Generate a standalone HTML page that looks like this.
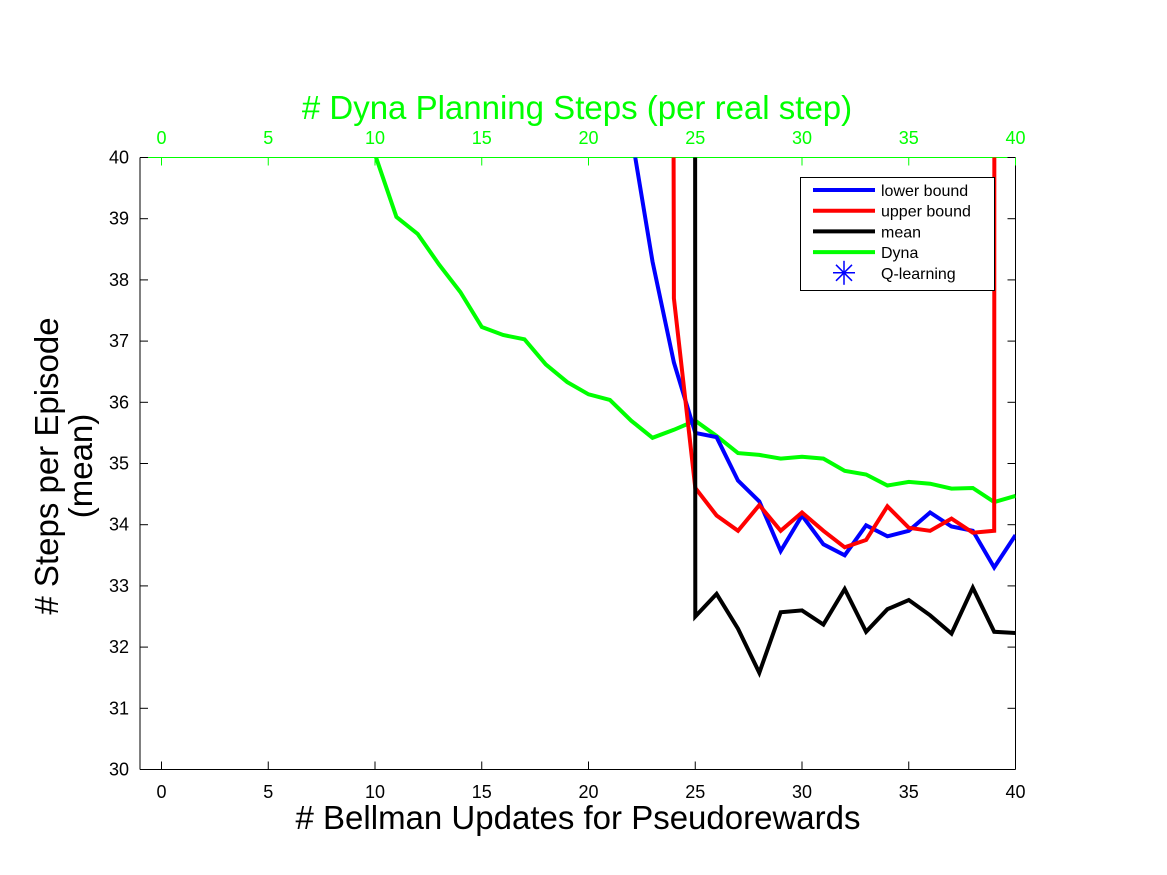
<!DOCTYPE html>
<html><head><meta charset="utf-8"><style>
body{margin:0;background:#fff;}
svg{display:block;font-family:"Liberation Sans",Arial,sans-serif;}
</style></head><body>
<svg id="chart" width="1167" height="875" viewBox="0 0 1167 875">
<rect width="1167" height="875" fill="#fff"/>
<g id="axes"></g>
<g id="series"></g>
<g id="legend"></g>
</svg>
<script>
const xTicks=[0,5,10,15,20,25,30,35,40];
const yTicks=[30,31,32,33,34,35,36,37,38,39,40];
const dynaX=[10,11,12,13,14,15,16,17,18,19,20,21,22,23,24,25,26,27,28,29,30,31,32,33,34,35,36,37,38,39,40];
const dynaY=[40.05,39.03,38.75,38.25,37.8,37.23,37.1,37.03,36.62,36.33,36.13,36.04,35.7,35.42,35.55,35.7,35.45,35.17,35.14,35.08,35.11,35.08,34.88,34.82,34.64,34.7,34.67,34.59,34.6,34.37,34.47];
const lowerX=[21,22,23,24,25,26,27,28,29,30,31,32,33,34,35,36,37,38,39,40];
const lowerY=[50,40.4,38.3,36.65,35.5,35.43,34.72,34.38,33.57,34.15,33.68,33.5,33.99,33.81,33.9,34.2,33.97,33.9,33.3,33.83];
const upperX=[23,24,25,26,27,28,29,30,31,32,33,34,35,36,37,38,39,40];
const upperY=[200,37.7,34.6,34.15,33.9,34.32,33.9,34.2,33.9,33.63,33.75,34.3,33.95,33.9,34.1,33.87,33.9,1000];
const meanX=[24,25,26,27,28,29,30,31,32,33,34,35,36,37,38,39,40];
const meanY=[1000,32.5,32.87,32.3,31.58,32.57,32.6,32.37,32.95,32.25,32.62,32.77,32.52,32.22,32.97,32.25,32.23];

const L=140,R=1015.5,T=157.5,B=769.5;
const xs=v=>161.5+(v)*21.35;
const ys=v=>B-(v-30)*(B-T)/10;
const NS="http://www.w3.org/2000/svg";
function mk(tag,attrs,parent,text){const e=document.createElementNS(NS,tag);for(const k in attrs)e.setAttribute(k,attrs[k]);if(text!==undefined)e.textContent=text;parent.appendChild(e);return e;}
const axes=document.getElementById('axes');
const defs=mk('defs',{},document.getElementById('chart'));
const cp=mk('clipPath',{id:'clip'},defs);
mk('rect',{x:L,y:T,width:R-L,height:B-T},cp);

let e;
e=mk('line',{x1:L,y1:B,x2:R,y2:B,stroke:'#000','stroke-width':1},axes);


e=mk('line',{x1:L,y1:T,x2:L,y2:B,stroke:'#000','stroke-width':1},axes);


e=mk('line',{x1:R,y1:T,x2:R,y2:B,stroke:'#000','stroke-width':1},axes);


e=mk('line',{x1:L,y1:T,x2:R,y2:T,stroke:'#00ff00','stroke-width':1},axes);



xTicks.forEach(t=>{
  const x=xs(t);
  mk('line',{x1:x,y1:B,x2:x,y2:B-8,stroke:'#000'},axes);
  mk('line',{x1:x,y1:T,x2:x,y2:T+8,stroke:'#00ff00'},axes);
  e=mk('text',{x:x,y:798,'font-size':18,'text-anchor':'middle',fill:'#000'},axes,String(t));
  
  
  e=mk('text',{x:x,y:144,'font-size':18,'text-anchor':'middle',fill:'#00ff00'},axes,String(t));
  
  
});
yTicks.forEach(t=>{
  const y=ys(t);
  mk('line',{x1:L,y1:y,x2:L+8,y2:y,stroke:'#000'},axes);
  mk('line',{x1:R,y1:y,x2:R-8,y2:y,stroke:'#000'},axes);
  e=mk('text',{x:129,y:y+6,'font-size':18,'text-anchor':'end',fill:'#000'},axes,String(t));
  
  
});
e=mk('text',{x:578,y:829,'font-size':33,'text-anchor':'middle',fill:'#000'},axes,'# Bellman Updates for Pseudorewards');


e=mk('text',{x:577,y:119,'font-size':33,'text-anchor':'middle',fill:'#00ff00'},axes,'# Dyna Planning Steps (per real step)');


e=mk('text',{transform:'translate(58,466) rotate(-90)','font-size':33,'text-anchor':'middle',fill:'#000'},axes,'# Steps per Episode');


e=mk('text',{transform:'translate(92,466) rotate(-90)','font-size':33,'text-anchor':'middle',fill:'#000'},axes,'(mean)');



const series=document.getElementById('series');
series.setAttribute('clip-path','url(#clip)');
function line(X,Y,color,name){
  const d=X.map((x,i)=>(i?'L':'M')+xs(x).toFixed(1)+','+ys(Y[i]).toFixed(1)).join(' ');
  const p=mk('path',{d:d,fill:'none',stroke:color,'stroke-width':4,'stroke-linejoin':'miter'},series);
  
  
}
line(dynaX,dynaY,'#00ff00','dyna-line');
line(lowerX,lowerY,'#0000ff','lower-bound-line');
line(upperX,upperY,'#ff0000','upper-bound-line');
line(meanX,meanY,'#000000','mean-line');

const lg=document.getElementById('legend');
mk('rect',{x:800.5,y:177.5,width:194,height:113,fill:'#fff',stroke:'#000','stroke-width':1},lg);
const items=[['lower bound','#0000ff'],['upper bound','#ff0000'],['mean','#000'],['Dyna','#00ff00'],['Q-learning','#0000ff']];
items.forEach((it,i)=>{
  const y=190+i*20.7;
  const g=mk('g',{},lg);
  
  
  if(i<4){mk('line',{x1:813,y1:y,x2:875,y2:y,stroke:it[1],'stroke-width':4},g);}
  else{
    const cx=844,cy=y;
    [[0,-12,0,12],[-11,0,11,0],[-8,-8,8,8],[-8,8,8,-8]].forEach(s=>mk('line',{x1:cx+s[0],y1:cy+s[1],x2:cx+s[2],y2:cy+s[3],stroke:it[1],'stroke-width':1.5},g));
  }
  mk('text',{x:881,y:y+6,'font-size':16,fill:'#000'},g,it[0]);
});
</script>
</body></html>
